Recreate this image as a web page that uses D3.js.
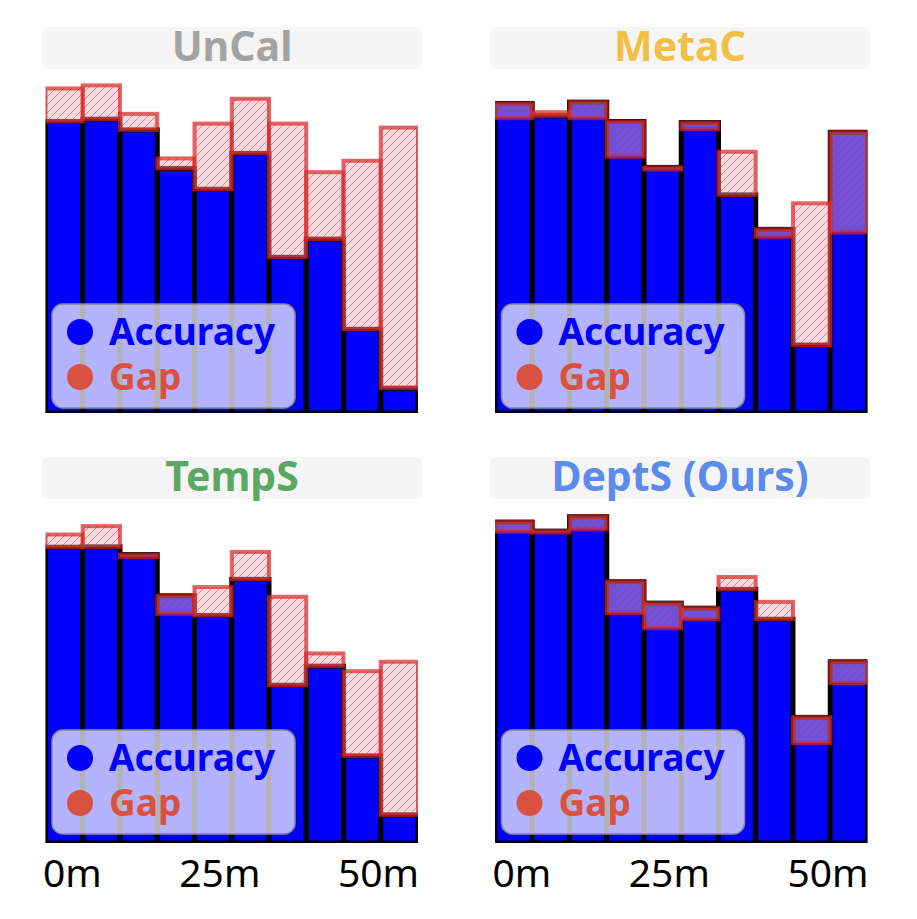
<!DOCTYPE html>
<html>
<head>
<meta charset="utf-8">
<script src="https://cdn.jsdelivr.net/npm/d3@7"></script>
<style>
  body { margin: 0; background: #fff; }
  svg { display: block; font-family: "Noto Sans", sans-serif; }
</style>
</head>
<body>
<script>
// bins and per-method values (accuracy / average confidence per bin)
var bins = [0, 1, 2, 3, 4, 5, 6, 7, 8, 9];
var methods = ["UnCal", "MetaC", "TempS", "DeptS (Ours)"];

var uncalAcc  = [0.870, 0.877, 0.845, 0.730, 0.668, 0.775, 0.465, 0.519, 0.250, 0.074];
var uncalConf = [0.969, 0.978, 0.893, 0.760, 0.864, 0.938, 0.864, 0.719, 0.753, 0.852];

var metacAcc  = [0.924, 0.887, 0.928, 0.870, 0.733, 0.867, 0.651, 0.548, 0.203, 0.838];
var metacConf = [0.880, 0.898, 0.880, 0.765, 0.727, 0.847, 0.780, 0.526, 0.626, 0.539];

var tempsAcc  = [0.883, 0.884, 0.861, 0.738, 0.679, 0.787, 0.471, 0.528, 0.260, 0.084];
var tempsConf = [0.921, 0.946, 0.854, 0.684, 0.764, 0.869, 0.735, 0.566, 0.513, 0.541];

var deptsAcc  = [0.958, 0.931, 0.974, 0.780, 0.716, 0.701, 0.757, 0.668, 0.375, 0.541];
var deptsConf = [0.929, 0.927, 0.936, 0.686, 0.641, 0.668, 0.794, 0.720, 0.298, 0.477];

var tickValues = [0.72, 4.68, 8.94];   // in bin units
var tickLabels = ["0m", "25m", "50m"];
var legendKeys = ["Accuracy", "Gap"];

var accData = [uncalAcc, metacAcc, tempsAcc, deptsAcc];
var confData = [uncalConf, metacConf, tempsConf, deptsConf];
var titleColors = ["#a3a3a3", "#f2c043", "#5aa862", "#5b8ceb"];
var legendColors = ["#0000ff", "#d9523f"];

var svg = d3.select("body").append("svg")
    .attr("width", 917)
    .attr("height", 919);

var defs = svg.append("defs");

var hatch = defs.append("pattern")
    .attr("id", "hatch")
    .attr("patternUnits", "userSpaceOnUse")
    .attr("width", 8)
    .attr("height", 8);
hatch.append("path")
    .attr("d", "M-2,2 L2,-2 M0,8 L8,0 M6,10 L10,6")
    .attr("stroke", "rgba(190,50,70,0.5)")
    .attr("stroke-width", 1);

var panels = [
  {x0: 45.5, x1: 418, top: 78, bottom: 413, boxX0: 42, boxX1: 422, boxY: 27},
  {x0: 495, x1: 867.5, top: 78, bottom: 413, boxX0: 490, boxX1: 870, boxY: 27},
  {x0: 45.5, x1: 418, top: 508, bottom: 843, boxX0: 42, boxX1: 422, boxY: 457},
  {x0: 495, x1: 867.5, top: 508, bottom: 843, boxX0: 490, boxX1: 870, boxY: 457}
];

panels.forEach(function(p, k) {
  var g = svg.append("g");

  var xScale = d3.scaleLinear().domain([0, 10]).range([p.x0, p.x1]);
  var yScale = d3.scaleLinear().domain([0, 1]).range([p.bottom, p.top]);

  // title box
  g.append("rect")
    .attr("x", p.boxX0)
    .attr("y", p.boxY)
    .attr("width", p.boxX1 - p.boxX0)
    .attr("height", 42)
    .attr("rx", 7)
    .attr("fill", "#f5f5f5");

  g.append("text")
    .attr("x", (p.boxX0 + p.boxX1) / 2)
    .attr("y", p.boxY + 34)
    .attr("text-anchor", "middle")
    .attr("font-size", 41)
    .attr("font-weight", "bold")
    .attr("fill", titleColors[k])
    .text(methods[k]);

  var clipId = "clip" + k;
  defs.append("clipPath").attr("id", clipId)
    .append("rect")
    .attr("x", p.x0)
    .attr("y", p.top - 20)
    .attr("width", p.x1 - p.x0)
    .attr("height", p.bottom - p.top + 20);

  var plot = g.append("g").attr("clip-path", "url(#" + clipId + ")");

  var acc = accData[k], conf = confData[k];

  plot.selectAll("rect.acc")
    .data(bins)
    .enter()
    .append("rect")
    .attr("class", "acc")
    .attr("x", function(d) { return xScale(d); })
    .attr("width", function(d) { return xScale(d + 1) - xScale(d); })
    .attr("y", function(d) { return yScale(acc[d]); })
    .attr("height", function(d) { return yScale(0) - yScale(acc[d]); })
    .attr("fill", "#0000ff")
    .attr("stroke", "#000")
    .attr("stroke-width", 5);

  var gapSel = plot.selectAll("g.gap")
    .data(bins)
    .enter()
    .append("g")
    .attr("class", "gap");

  gapSel.append("rect")
    .attr("x", function(d) { return xScale(d); })
    .attr("width", function(d) { return xScale(d + 1) - xScale(d); })
    .attr("y", function(d) { return yScale(Math.max(acc[d], conf[d])); })
    .attr("height", function(d) { return Math.abs(yScale(acc[d]) - yScale(conf[d])); })
    .attr("fill", "rgba(238,172,182,0.47)");

  gapSel.append("rect")
    .attr("x", function(d) { return xScale(d); })
    .attr("width", function(d) { return xScale(d + 1) - xScale(d); })
    .attr("y", function(d) { return yScale(Math.max(acc[d], conf[d])); })
    .attr("height", function(d) { return Math.abs(yScale(acc[d]) - yScale(conf[d])); })
    .attr("fill", "url(#hatch)")
    .attr("stroke", "rgba(215,35,35,0.7)")
    .attr("stroke-width", 4);

  // legend
  var lx = p.x0 + 6.5, ly = p.bottom - (k < 2 ? 109 : 113);
  var legend = g.append("g").attr("transform", "translate(" + lx + "," + ly + ")");

  legend.append("rect")
    .attr("width", 243)
    .attr("height", 104)
    .attr("rx", 11)
    .attr("fill", "rgba(255,255,255,0.7)")
    .attr("stroke", "#8a8a8a")
    .attr("stroke-width", 1.5);

  legend.selectAll("circle")
    .data(legendKeys)
    .enter()
    .append("circle")
    .attr("cx", 28)
    .attr("cy", function(d, i) { return 28 + i * 45; })
    .attr("r", 13)
    .attr("fill", function(d, i) { return legendColors[i]; });

  legend.selectAll("text")
    .data(legendKeys)
    .enter()
    .append("text")
    .attr("x", 57)
    .attr("y", function(d, i) { return 41 + i * 45; })
    .attr("font-size", 37)
    .attr("font-weight", "bold")
    .attr("fill", function(d, i) { return legendColors[i]; })
    .text(function(d) { return d; });

  // x tick labels, bottom row only
  if (k >= 2) {
    g.selectAll("text.tick")
      .data(tickValues)
      .enter()
      .append("text")
      .attr("class", "tick")
      .attr("x", function(d) { return xScale(d); })
      .attr("y", p.bottom + 44)
      .attr("text-anchor", "middle")
      .attr("font-size", 39)
      .attr("fill", "#000")
      .text(function(d, i) { return tickLabels[i]; });
  }
});
</script>
</body>
</html>
